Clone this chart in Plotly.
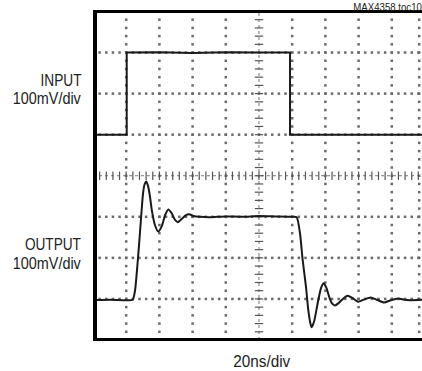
import numpy as np
import plotly.graph_objects as go

# ---- data (time in ns, amplitude in mV) ----
input_t = [0, 20.3, 20.3, 40, 60, 80, 100, 118.7, 118.7, 150, 198.2]
input_mv = [0, 0, 200, 201, 199, 201, 200, 200, 0, 0, 0]

output_t = [0, 10, 20, 23.9, 25.3, 26.5, 27.7, 29.0, 30.1, 31.0, 32.1, 33.1, 34.3,
            35.4, 37.3, 39.3, 41.5, 43.5, 45.4, 47.5, 49.3, 51.1, 53.5, 56, 58.0,
            60.5, 64.5, 70, 80, 90, 100, 110, 120, 122.7, 124.7, 126.3, 128.3,
            129.7, 131.0, 131.7, 133.2, 135.7, 137.5, 139.0, 140.5, 142.3, 144,
            145.8, 148, 150.5, 153.3, 156.5, 159.8, 163.5, 167.3, 171, 175.4,
            179.5, 183.9, 187.5, 191, 198.2]
output_mv = [-3, -2, -3, -2, 20, 70, 130, 200, 255, 278, 286, 276, 250,
             217, 180, 164, 178, 205, 218, 208, 193, 187, 195, 204, 206,
             202, 200, 199, 201, 200, 202, 201, 200, 199, 160, 95, 30,
             -27, -60, -69, -55, -3, 28, 38, 28, 5, -11,
             -16, -10, 0, 8, 2, -7, -1, 3.5, -2, -8.7,
             -3, 1, -2, -3, -2]

input_offset = 500    # screen position of input ground (mV on 800 mV screen)
output_offset = 100   # screen position of output ground

# graticule: 20 ns/div, 100 mV/div
x_div = [20, 40, 60, 80, 120, 140, 160, 180, 196.5]
y_div = [100, 200, 300, 500, 600, 700]
x_center = 100
y_center = 400

fig = go.Figure()

# dotted graticule
gx, gy = [], []
for xv in x_div:
    for yv in np.arange(0, 801, 20):
        gx.append(xv); gy.append(yv)
for yv in y_div:
    for xv in np.arange(0, 201, 4):
        gx.append(xv); gy.append(yv)
fig.add_trace(go.Scatter(x=gx, y=gy, mode="markers",
                         marker=dict(symbol="square", size=2.5, color="#6a6a6a", line=dict(width=0)),
                         hoverinfo="skip"))

# center cross lines
fig.add_trace(go.Scatter(x=[0, 200], y=[y_center, y_center], mode="lines",
                         line=dict(color="#777", width=1, dash="dot"), hoverinfo="skip"))
fig.add_trace(go.Scatter(x=[x_center, x_center], y=[0, 800], mode="lines",
                         line=dict(color="#777", width=1, dash="dot"), hoverinfo="skip"))
tx = np.arange(0, 201, 4)
fig.add_trace(go.Scatter(x=tx, y=[y_center] * len(tx), mode="markers",
                         marker=dict(symbol="line-ns", size=6, line=dict(width=1.2, color="#555")),
                         hoverinfo="skip"))
ty = np.arange(0, 801, 20)
fig.add_trace(go.Scatter(x=[x_center] * len(ty), y=ty, mode="markers",
                         marker=dict(symbol="line-ew", size=6, line=dict(width=1.2, color="#555")),
                         hoverinfo="skip"))

# signals
fig.add_trace(go.Scatter(x=input_t, y=[v + input_offset for v in input_mv], mode="lines",
                         line=dict(color="#1a1a1a", width=2), hoverinfo="skip"))
fig.add_trace(go.Scatter(x=output_t, y=[v + output_offset for v in output_mv], mode="lines",
                         line=dict(color="#1a1a1a", width=2, shape="spline", smoothing=0.6),
                         hoverinfo="skip"))

font_family = "Liberation Sans, Arial, sans-serif"

fig.update_layout(
    width=422, height=371,
    margin=dict(l=97, r=0, t=13, b=33),
    paper_bgcolor="white", plot_bgcolor="white",
    showlegend=False,
    font=dict(family=font_family, color="#222"),
    xaxis=dict(range=[2.41, 198.2], showgrid=False, zeroline=False, showticklabels=False,
               ticks="", showline=True, linecolor="black", linewidth=3, mirror=True),
    yaxis=dict(range=[4.87, 796.3], showgrid=False, zeroline=False, showticklabels=False,
               ticks="", showline=True, linecolor="black", linewidth=4, mirror=False),
)

PW, PH, L, B = 325.0, 325.0, 97.0, 338.0

def ann(text, cx, cy, size):
    # cx, cy: pixel centre of the label in the page
    fig.add_annotation(text=text, x=(cx - L) / PW, y=(B - cy) / PH, xref="paper", yref="paper",
                       xanchor="center", yanchor="middle", showarrow=False,
                       font=dict(size=size, family=font_family, color="#222"))

ann("INPUT", 61, 80.5, 16)
ann("100mV/div", 47, 99, 16)
ann("OUTPUT", 53, 244.5, 16)
ann("100mV/div", 47, 263.5, 16)
ann("20ns/div", 262, 361, 16.5)
ann("MAX4358 toc107", 390, 7, 10.5)

post = """
document.body.style.margin='0';
var gd = document.getElementById('{plot_id}');
var widths = {'INPUT':41, '100mV/div':68, 'OUTPUT':56, '20ns/div':57, 'MAX4358 toc107':74};
gd.querySelectorAll('text.annotation-text').forEach(function(t){
  var w = widths[t.textContent];
  if (w) { t.setAttribute('textLength', w); t.setAttribute('lengthAdjust', 'spacingAndGlyphs'); }
});
"""

fig.write_html("out.html", post_script=post, config={"displayModeBar": False})
